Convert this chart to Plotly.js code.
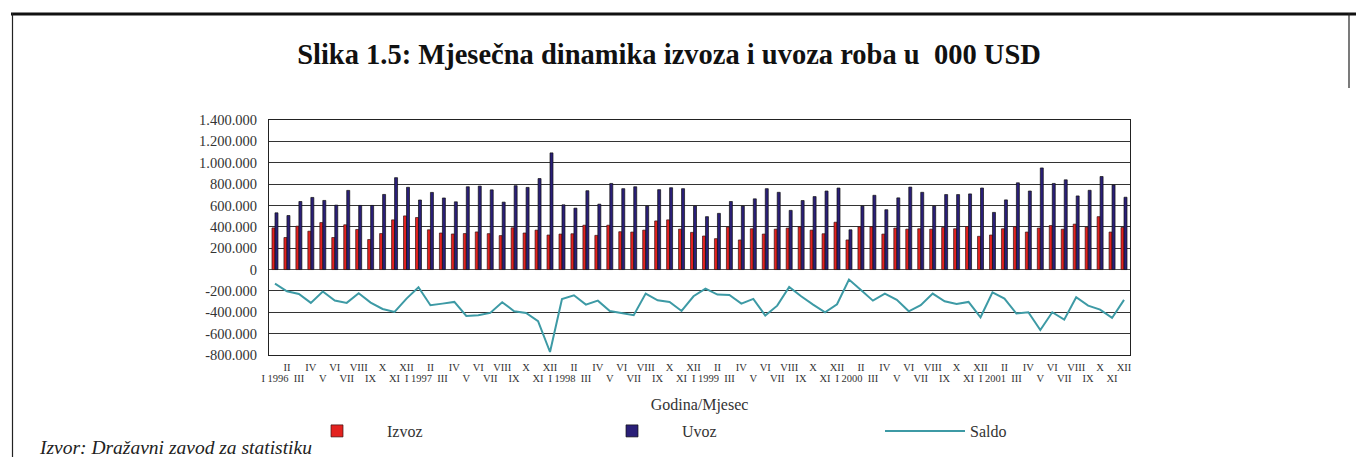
<!DOCTYPE html>
<html>
<head>
<meta charset="utf-8">
<script src="https://cdn.plot.ly/plotly-3.0.1.min.js"></script>
<style>
  html, body { margin: 0; padding: 0; background: #fff; }
  #chart { width: 1356px; height: 457px; }
</style>
</head>
<body>
<div id="chart"></div>
<script>
// ---- data (000 USD) ----
const months = ["I","II","III","IV","V","VI","VII","VIII","IX","X","XI","XII"];
const years = [1996, 1997, 1998, 1999, 2000, 2001];

const izvoz = [
  390000,300000,406000,359000,440000,300000,419000,375000,281000,337000,465000,502000,
  487000,372000,342000,333000,337000,352000,336000,318000,391000,342000,369000,323000,
  332000,335000,415000,320000,415000,354000,351000,369000,455000,465000,378000,348000,
  314000,289000,397000,277000,382000,332000,378000,388000,400000,369000,335000,443000,
  277000,400000,400000,332000,388000,378000,382000,378000,394000,382000,403000,311000,
  323000,382000,400000,351000,388000,412000,378000,425000,397000,495000,351000,394000
];
const uvoz = [
  531000,506000,637000,675000,647000,603000,741000,600000,600000,703000,860000,770000,
  651000,722000,670000,634000,775000,781000,746000,631000,785000,769000,852000,1092000,
  606000,575000,738000,612000,806000,757000,775000,594000,748000,766000,757000,594000,
  495000,526000,637000,594000,662000,757000,723000,554000,646000,683000,735000,763000,
  372000,594000,695000,560000,671000,772000,723000,594000,702000,702000,708000,763000,
  535000,652000,812000,735000,951000,806000,840000,689000,742000,871000,791000,677000
];
const saldo = [
  -131000,-203000,-228000,-312000,-206000,-290000,-312000,-222000,-309000,-369000,-397000,-272000,
  -166000,-334000,-319000,-303000,-434000,-428000,-406000,-306000,-390000,-406000,-484000,-772000,
  -275000,-241000,-328000,-291000,-388000,-409000,-428000,-225000,-288000,-303000,-388000,-250000,
  -178000,-234000,-238000,-319000,-275000,-431000,-338000,-163000,-250000,-328000,-400000,-325000,
  -94000,-191000,-291000,-225000,-284000,-391000,-334000,-225000,-297000,-322000,-303000,-447000,
  -213000,-272000,-412000,-400000,-566000,-400000,-469000,-259000,-338000,-375000,-453000,-284000
];
const yTickVals = [-800000,-600000,-400000,-200000,0,200000,400000,600000,800000,1000000,1200000,1400000];
const yTickText = ["-800.000","-600.000","-400.000","-200.000","0","200.000","400.000","600.000","800.000","1.000.000","1.200.000","1.400.000"];

// ---- derived category / tick tables ----
const categories = [];
const upperVals = [], upperText = [];   // even months (II, IV, ...) - upper row
const lowerVals = [], lowerText = [];   // odd months (I yyyy, III, ...) - lower row
years.forEach(function (y) {
  months.forEach(function (m, mi) {
    const idx = categories.length;
    categories.push(m + " " + y);
    if (mi % 2 === 1) { upperVals.push(m + " " + y); upperText.push(m); }
    else { lowerVals.push(idx); lowerText.push(mi === 0 ? (m + " " + y) : m); }
  });
});

const serif = "Liberation Serif";

const traces = [
  {
    type: "bar", name: "Izvoz", x: categories, y: izvoz, legend: "legend",
    marker: { color: "#e3221f", line: { color: "#3a1212", width: 0.7 } }
  },
  {
    type: "bar", name: "Uvoz", x: categories, y: uvoz, legend: "legend2",
    marker: { color: "#2a1f78", line: { color: "#111111", width: 0.7 } }
  },
  {
    type: "scatter", mode: "lines", name: "Saldo", x: categories, y: saldo, legend: "legend3",
    line: { color: "#3d9aa5", width: 2 }
  },
  // empty carrier so the second (lower-row label) x axis is drawn
  {
    type: "scatter", mode: "markers", x: [0], y: [null], xaxis: "x2", yaxis: "y",
    showlegend: false, hoverinfo: "skip", marker: { opacity: 0 }
  }
];

const L = 269, R = 1130, T = 120, B = 355, W = 1356, H = 457;
const px = v => (v - L) / (R - L);
const py = v => (B - v) / (B - T);

function legendAt(xPix, iw) {
  return {
    orientation: "h", xref: "container", yref: "container",
    x: xPix / W, xanchor: "left", y: (H - 431) / H, yanchor: "middle",
    font: { family: serif, size: 16, color: "#333" },
    itemwidth: iw, bgcolor: "rgba(0,0,0,0)"
  };
}

const layout = {
  width: W, height: H,
  margin: { l: L, r: W - R, t: T, b: H - B, pad: 0, autoexpand: false },
  paper_bgcolor: "#ffffff", plot_bgcolor: "#ffffff",
  font: { family: serif, color: "#222" },
  barmode: "group", bargap: 0.5, bargroupgap: 0,
  showlegend: true,
  title: {
    text: "<b>Slika 1.5: Mjesečna dinamika izvoza i uvoza roba u \u00a0000 USD</b>",
    font: { family: serif, size: 28.5, color: "#111" },
    x: 669 / W, xanchor: "center", xref: "container",
    y: (H - 54) / H, yanchor: "middle", yref: "container"
  },
  xaxis: {
    type: "category", categoryorder: "array", categoryarray: categories,
    tickmode: "array", tickvals: upperVals, ticktext: upperText,
    tickangle: 0, tickfont: { family: serif, size: 10.5, color: "#333" },
    showgrid: false, zeroline: false,
    showline: true, linecolor: "#222", linewidth: 1, mirror: true,
    ticks: "", ticklabelstandoff: 2,
    title: { text: "Godina/Mjesec", font: { family: serif, size: 16, color: "#333" }, standoff: 31 },
    automargin: false
  },
  xaxis2: {
    type: "linear", overlaying: "x", anchor: "y", side: "bottom",
    range: [-0.5, categories.length - 0.5],
    tickmode: "array", tickvals: lowerVals, ticktext: lowerText,
    tickangle: 0, tickfont: { family: serif, size: 10.5, color: "#333" },
    showgrid: false, zeroline: false, showline: false,
    ticks: "", ticklabelstandoff: 15, automargin: false
  },
  yaxis: {
    range: [-800000, 1400000], tickmode: "array", tickvals: yTickVals, ticktext: yTickText,
    tickfont: { family: serif, size: 14.5, color: "#333" },
    showgrid: true, gridcolor: "#333", gridwidth: 1,
    zeroline: true, zerolinecolor: "#555", zerolinewidth: 1,
    showline: true, linecolor: "#222", linewidth: 1, mirror: true,
    ticks: "", ticklabelstandoff: 8, automargin: false
  },
  legend: legendAt(287, 90),
  legend2: legendAt(582, 90),
  legend3: legendAt(880, 80),
  annotations: [
    {
      text: "<i>Izvor: Dražavni zavod za statistiku</i>",
      xref: "paper", yref: "paper", x: px(37), y: py(447),
      xanchor: "left", yanchor: "middle", showarrow: false,
      font: { family: serif, size: 19.5, color: "#222" }
    }
  ],
  shapes: [
    { type: "line", xref: "paper", yref: "paper", x0: px(11), x1: px(1356), y0: py(14), y1: py(14),
      line: { color: "#111", width: 3 } },
    { type: "line", xref: "paper", yref: "paper", x0: px(12.5), x1: px(12.5), y0: py(13), y1: py(457),
      line: { color: "#222", width: 1.2 } },
    { type: "line", xref: "paper", yref: "paper", x0: px(1349), x1: px(1349), y0: py(13), y1: py(88),
      line: { color: "#222", width: 1.2 } }
  ]
};

Plotly.newPlot("chart", traces, layout, { displayModeBar: false, staticPlot: true });
</script>
</body>
</html>
